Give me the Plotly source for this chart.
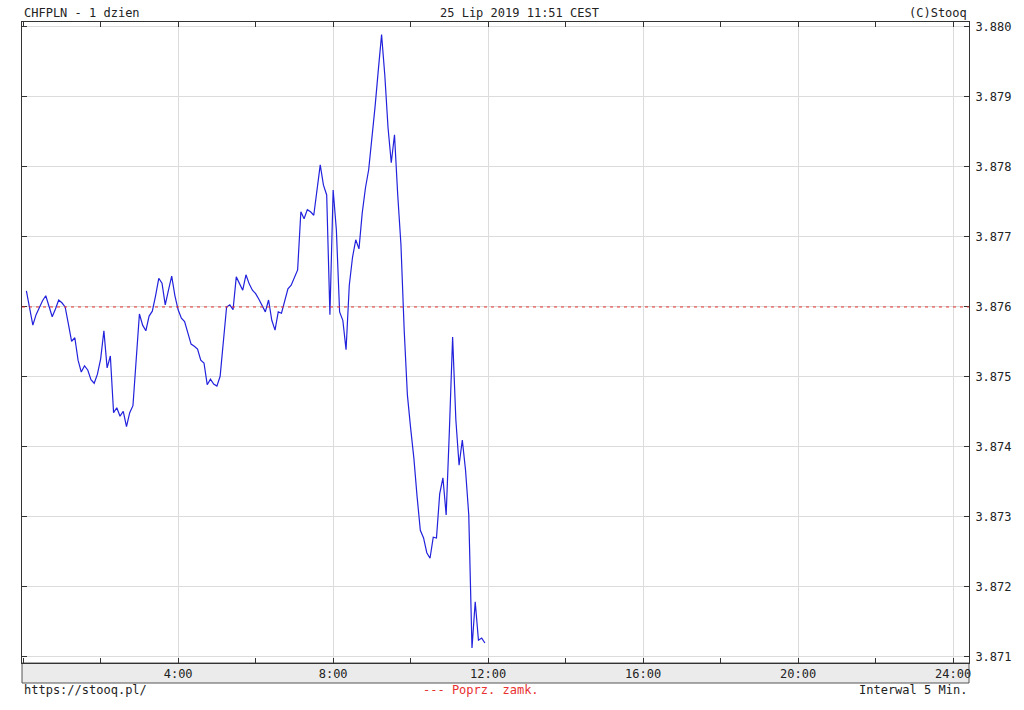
import plotly.graph_objects as go

# ---- data ----
symbol = "CHFPLN - 1 dzien"
stamp = "25 Lip 2019 11:51 CEST"
interval_min = 5          # 5-minute bars, first bar closes at 0:05
prev_close = 3.876        # "Poprz. zamk." (previous close)

prices = [
    3.87623, 3.87596, 3.87574, 3.87589, 3.87600, 3.87609, 3.87616, 3.87601, 3.87586, 3.87597,
    3.87610, 3.87606, 3.87600, 3.87576, 3.87551, 3.87556, 3.87524, 3.87507, 3.87516, 3.87510,
    3.87496, 3.87491, 3.87504, 3.87526, 3.87566, 3.87513, 3.87530, 3.87449, 3.87456, 3.87444,
    3.87451, 3.87429, 3.87449, 3.87459, 3.87524, 3.87590, 3.87574, 3.87566, 3.87587, 3.87594,
    3.87616, 3.87641, 3.87634, 3.87603, 3.87624, 3.87644, 3.87616, 3.87596, 3.87584, 3.87579,
    3.87563, 3.87547, 3.87544, 3.87540, 3.87524, 3.87520, 3.87489, 3.87497, 3.87490, 3.87487,
    3.87501, 3.87553, 3.87600, 3.87603, 3.87596, 3.87643, 3.87633, 3.87624, 3.87646, 3.87633,
    3.87624, 3.87619, 3.87611, 3.87603, 3.87593, 3.87610, 3.87581, 3.87567, 3.87593, 3.87591,
    3.87610, 3.87626, 3.87631, 3.87641, 3.87653, 3.87736, 3.87726, 3.87739, 3.87736, 3.87731,
    3.87767, 3.87803, 3.87774, 3.87760, 3.87589, 3.87767, 3.87710, 3.87593, 3.87581, 3.87539,
    3.87631, 3.87671, 3.87696, 3.87683, 3.87734, 3.87770, 3.87796, 3.87839, 3.87887, 3.87939,
    3.87989, 3.87931, 3.87856, 3.87806, 3.87846, 3.87760, 3.87689, 3.87567, 3.87474, 3.87427,
    3.87384, 3.87329, 3.87281, 3.87270, 3.87249, 3.87241, 3.87271, 3.87270, 3.87333, 3.87356,
    3.87303, 3.87424, 3.87557, 3.87439, 3.87374, 3.87410, 3.87367, 3.87303, 3.87113, 3.87179,
    3.87124, 3.87127, 3.87120,
]

hour_ticks = [4, 8, 12, 16, 20, 24]
hour_labels = ["4:00", "8:00", "12:00", "16:00", "20:00", "24:00"]
price_ticks = [3.871, 3.872, 3.873, 3.874, 3.875, 3.876, 3.877, 3.878, 3.879, 3.880]

hours = [(i + 1) * interval_min / 60 for i in range(len(prices))]

# ---- figure ----
FONT = "DejaVu Sans Mono"
W, H = 1024, 710
ML, MR, MT, MB = 22, 49, 22, 47
plot_h = H - MT - MB

fig = go.Figure()
fig.add_trace(go.Scatter(
    x=hours, y=prices, mode="lines",
    line=dict(color="#2222dd", width=1.2),
    hoverinfo="x+y", showlegend=False,
))
fig.add_hline(y=prev_close, line=dict(color="#e83030", width=1, dash="3px,4px"))

fig.update_xaxes(
    range=[-0.03, 24.41],
    tickvals=hour_ticks, ticktext=hour_labels,
    ticks="inside", ticklen=5, tickcolor="#333",
    showgrid=True, gridcolor="#dcdcdc", gridwidth=1,
    showline=True, linecolor="#333", linewidth=1, mirror="ticks",
    minor=dict(dtick=2, tick0=0, ticks="inside", ticklen=5, tickcolor="#333", showgrid=False),
    zeroline=False,
    tickfont=dict(family=FONT, size=12, color="#222"),
)
fig.update_yaxes(
    range=[3.870914, 3.880071],
    side="right",
    tickvals=price_ticks, ticktext=[f"{v:.3f}" for v in price_ticks],
    ticks="inside", ticklen=5, tickcolor="#333",
    ticklabelstandoff=3,
    showgrid=True, gridcolor="#dcdcdc", gridwidth=1,
    showline=True, linecolor="#333", linewidth=1, mirror="ticks",
    zeroline=False,
    tickfont=dict(family=FONT, size=12, color="#222"),
)

band = 20 / plot_h
fig.add_shape(type="rect", xref="paper", yref="paper",
              x0=0, x1=1, y0=-band, y1=0,
              fillcolor="#ebebeb", line=dict(color="#555", width=1), layer="below")

top_y = 1 + 9 / plot_h
foot_y = -27 / plot_h
txt = dict(family=FONT, size=12, color="#222")
anns = [
    dict(x=0, y=top_y, text=symbol, xanchor="left"),
    dict(x=(522.5 - ML) / (W - ML - MR), y=top_y, text=stamp, xanchor="center"),
    dict(x=1, y=top_y, text="(C)Stooq", xanchor="right"),
    dict(x=0, y=foot_y, text="https://stooq.pl/", xanchor="left"),
    dict(x=(484 - ML) / (W - ML - MR), y=foot_y, text="--- Poprz. zamk.", xanchor="center",
         font=dict(family=FONT, size=12, color="#e83030")),
    dict(x=1, y=foot_y, text="Interwal 5 Min.", xanchor="right"),
]
for a in anns:
    a.setdefault("font", txt)
    fig.add_annotation(xref="paper", yref="paper", yanchor="middle", showarrow=False, **a)

fig.update_layout(
    width=W, height=H,
    margin=dict(l=ML, r=MR, t=MT, b=MB),
    paper_bgcolor="white", plot_bgcolor="white",
    font=dict(family=FONT, size=12, color="#222"),
)

fig.write_html("out.html",
               config={"displayModeBar": False},
               post_script="document.body.style.margin='0px';document.body.style.overflow='hidden';")
